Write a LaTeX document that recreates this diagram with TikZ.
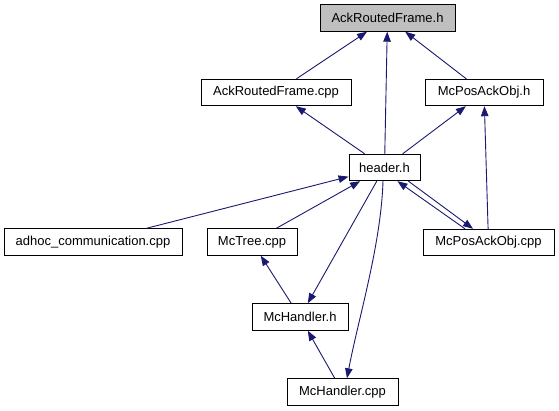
\documentclass[tikz,border=0pt]{standalone}
\usepackage{fontspec}
\setmainfont{Liberation Sans}
\usetikzlibrary{arrows.meta}
\definecolor{midnightblue}{HTML}{191970}
\definecolor{headgray}{HTML}{BFBFBF}

\begin{document}
\begin{tikzpicture}[x=1pt, y=-1pt,
        file/.style={draw=black, line width=0.9pt, minimum height=26.5pt, inner sep=0pt,
            font=\fontsize{13}{15}\selectfont},
        edge/.style={midnightblue, line width=0.9pt, -{Triangle[length=10pt,width=7.5pt]}}]
        \useasboundingbox (0,0) rectangle (559,411);

        \node[file, fill=headgray, minimum width=135pt] (ARFh) at (387.5,18) {AckRoutedFrame.h};
        \node[file, minimum width=150pt] (ARFcpp) at (276,92.5) {AckRoutedFrame.cpp};
        \node[file, minimum width=118pt] (MPAh) at (484,92.5) {McPosAckObj.h};
        \node[file, minimum width=71pt] (header) at (384.5,167.5) {header.h};
        \node[file, minimum width=178pt] (adhoc) at (93,242) {adhoc\_communication.cpp};
        \node[file, minimum width=90pt] (McTree) at (252,242) {McTree.cpp};
        \node[file, minimum width=131pt] (MPAcpp) at (488.5,242.5) {McPosAckObj.cpp};
        \node[file, minimum width=96pt] (McHh) at (300,317) {McHandler.h};
        \node[file, minimum width=111pt] (McHcpp) at (342.5,392) {McHandler.cpp};

        \draw[edge] (ARFcpp) -- (ARFh);
        \draw[edge] (header) -- (ARFh);
        \draw[edge] (MPAh) -- (ARFh);
        \draw[edge] (header) -- (ARFcpp);
        \draw[edge] (header) -- (MPAh);
        \draw[edge] (MPAcpp) -- (MPAh);
        \draw[edge] (adhoc) -- (header);
        \draw[edge] (McTree) -- (header);
        \draw[edge] ([xshift=-23.5pt]MPAcpp.north) -- ([xshift=-23pt]header.south east);
        \draw[edge] ([xshift=-12pt]header.south east) -- ([xshift=-15.5pt]MPAcpp.north);
        \draw[edge] (header) -- (McHh);
        \draw[edge] ([xshift=-1.5pt]header.south) .. controls (381,245) and (358,320) .. ([xshift=4.5pt]McHcpp.north);
        \draw[edge] (McHh) -- (McTree);
        \draw[edge] (McHcpp) -- (McHh);
\end{tikzpicture}
\end{document}
